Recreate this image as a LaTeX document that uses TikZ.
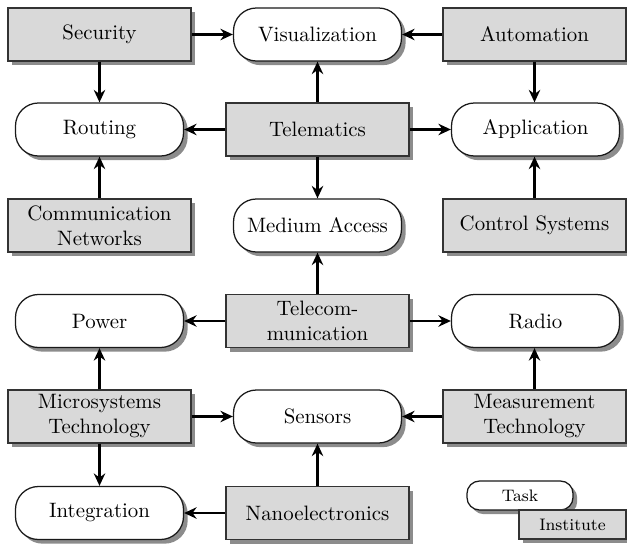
\documentclass[tikz,border=0pt]{standalone}
\usetikzlibrary{shadows,arrows.meta}
\begin{document}
\begin{tikzpicture}[x=0.48pt,y=-0.48pt,
  inst/.style={draw=black!80,line width=0.6pt,fill=black!15,minimum width=87.84pt,minimum height=25.44pt,inner sep=0pt,align=center,
    drop shadow={shadow xshift=2pt,shadow yshift=-2pt,fill=black,opacity=0.45}},
  task/.style={draw=black!90,line width=0.6pt,fill=white,rounded corners=11pt,minimum width=80.64pt,minimum height=25.44pt,inner sep=0pt,align=center,
    drop shadow={shadow xshift=2pt,shadow yshift=-2pt,fill=black,opacity=0.45}},
  conn/.style={-{Stealth[length=6pt,width=5.5pt,inset=2pt]},line width=1pt,black}]
\useasboundingbox (0,0) rectangle (627,544);
% row 1
\node[inst] (sec) at (99.5,34.5) {Security};
\node[task] (vis) at (317.5,34.5) {Visualization};
\node[inst] (aut) at (534.5,34.5) {Automation};
% row 2
\node[task] (rou) at (99.5,129.5) {Routing};
\node[inst] (tel) at (317.5,129.5) {Telematics};
\node[task] (app) at (535.5,129.5) {Application};
% row 3
\node[inst] (com) at (99.5,225.5) {Communication\\Networks};
\node[task] (med) at (317.5,225.5) {Medium Access};
\node[inst] (con) at (534.5,225.5) {Control Systems};
% row 4
\node[task] (pow) at (99.5,321) {Power};
\node[inst] (tcm) at (317.5,321) {Telecom-\\munication};
\node[task] (rad) at (535.5,321) {Radio};
% row 5
\node[inst] (mic) at (99.5,416.5) {Microsystems\\Technology};
\node[task] (sen) at (317.5,416.5) {Sensors};
\node[inst] (mea) at (534.5,416.5) {Measurement\\Technology};
% row 6
\node[task] (int) at (99.5,513) {Integration};
\node[inst] (nan) at (317.5,513) {Nanoelectronics};
% legend
\node[task,minimum width=50.9pt,minimum height=13.9pt,rounded corners=6pt,font=\footnotesize] (ltask) at (520,495.5) {Task};
\node[inst,minimum width=51.4pt,minimum height=13.9pt,font=\footnotesize] (linst) at (572.5,524.5) {Institute};
% connectors
\draw[conn] (sec) -- (vis);
\draw[conn] (sec) -- (rou);
\draw[conn] (aut) -- (vis);
\draw[conn] (aut.south) -- (app.north -| aut.south);
\draw[conn] (tel) -- (vis);
\draw[conn] (tel) -- (rou);
\draw[conn] (tel) -- (app);
\draw[conn] (tel) -- (med);
\draw[conn] (com) -- (rou);
\draw[conn] (con.north) -- (app.south -| con.north);
\draw[conn] (tcm) -- (med);
\draw[conn] (tcm) -- (pow);
\draw[conn] (tcm) -- (rad);
\draw[conn] (mic) -- (pow);
\draw[conn] (mic) -- (sen);
\draw[conn] (mic) -- (int);
\draw[conn] (mea) -- (sen);
\draw[conn] (mea.north) -- (rad.south -| mea.north);
\draw[conn] (nan) -- (sen);
\draw[conn] (nan) -- (int);
\end{tikzpicture}
\end{document}
